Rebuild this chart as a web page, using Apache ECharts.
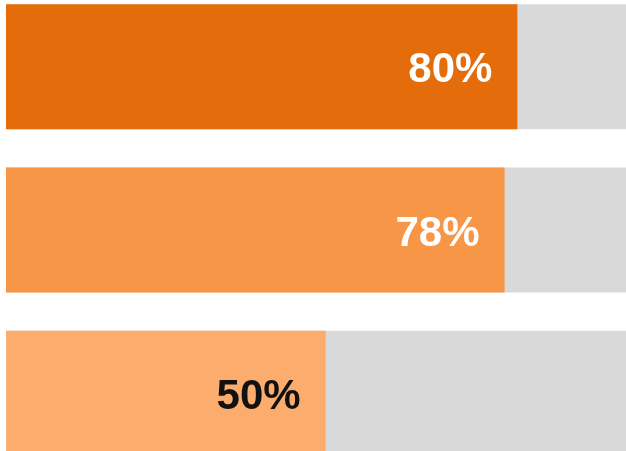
<!DOCTYPE html>
<html>
<head>
<meta charset="utf-8">
<script src="https://cdn.jsdelivr.net/npm/echarts@6/dist/echarts.min.js"></script>
<style>
html, body { margin: 0; padding: 0; background: #fff; overflow: hidden; }
/* the bars are cut by the frame at top and bottom, so the chart is taller than the window */
#main { position: absolute; left: 0; top: -15px; width: 626px; height: 490px; }
</style>
</head>
<body>
<div id="main"></div>
<script>
var categories = ['A', 'B', 'C'];
var values = [80, 78, 50];
var barColors = ['#e46c0a', '#f79646', '#fcad6d'];
var labelColors = ['#ffffff', '#ffffff', '#111111'];

var progress = {
    init: function () {
        var that = this
        that.progressBars()
    },
    progressBars: function () {
        var myChart = echarts.init(document.getElementById('main'));
        var data = values.map(function (v, i) {
            return {
                value: v,
                itemStyle: { color: barColors[i] },
                label: { color: labelColors[i] }
            };
        });
        var option = {
            animation: false,
            grid: {
                left: 6,
                right: 0,
                top: 0,
                bottom: 0
            },
            xAxis: {
                type: 'value',
                min: 0,
                max: 97,
                show: false
            },
            yAxis: {
                type: 'category',
                inverse: true,
                data: categories,
                show: false
            },
            series: [{
                type: 'bar',
                data: data,
                barWidth: 125,
                showBackground: true,
                backgroundStyle: {
                    color: '#d9d9d9'
                },
                label: {
                    show: true,
                    position: 'insideRight',
                    distance: 25,
                    offset: [0, 4],
                    fontFamily: 'Liberation Sans',
                    fontWeight: 'bold',
                    fontSize: 42,
                    formatter: '{c}%'
                }
            }]
        };
        myChart.setOption(option);
    }
}
progress.init();
</script>
</body>
</html>
